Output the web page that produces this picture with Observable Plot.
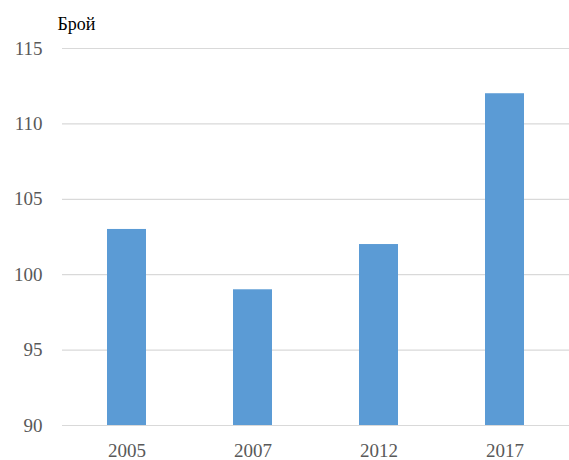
<!DOCTYPE html>
<html><head><meta charset="utf-8">
<script src="https://cdn.jsdelivr.net/npm/d3@7"></script>
<script src="https://cdn.jsdelivr.net/npm/@observablehq/plot@0.6"></script>
<style>body{margin:0;background:#fff} svg, svg text{font-family:"Liberation Serif","DejaVu Serif",serif !important;}</style>
</head><body><div id="chart"></div>
<script>
const years = ["2005", "2007", "2012", "2017"];
const counts = [103, 99, 102, 112];
const yTicks = [90, 95, 100, 105, 110, 115];
const yLabel = "Брой";

const data = years.map((y, i) => ({year: y, value: counts[i]}));
const serif = "'Liberation Serif', 'DejaVu Serif', serif";

const chart = Plot.plot({
  width: 569,
  height: 460,
  marginTop: 48,
  marginBottom: 35,
  marginLeft: 62,
  marginRight: 0,
  style: {fontFamily: serif, fontSize: "19px", color: "#595959", background: "#fff"},
  x: {domain: years, paddingInner: 0.69, paddingOuter: 0.345, label: null},
  y: {domain: [90, 115], ticks: yTicks, label: null},
  marks: [
    Plot.gridY(yTicks, {stroke: "#d9d9d9", strokeOpacity: 1, strokeWidth: 1.2}),
    Plot.barY(data, {x: "year", y1: 90, y2: "value", fill: "#5b9bd5"}),
    Plot.axisY(yTicks, {tickSize: 0, tickPadding: 20, label: null, fill: "#595959", fontFamily: serif, fontSize: 19}),
    Plot.axisX({tickSize: 0, tickPadding: 18, label: null, fill: "#595959", fontFamily: serif, fontSize: 19}),
    Plot.text([yLabel], {text: d => d, frameAnchor: "top-left", dx: -5, dy: -24, textAnchor: "start", lineAnchor: "middle", fill: "#000", fontFamily: serif, fontSize: 18})
  ]
});
document.getElementById("chart").appendChild(chart);
</script></body></html>
